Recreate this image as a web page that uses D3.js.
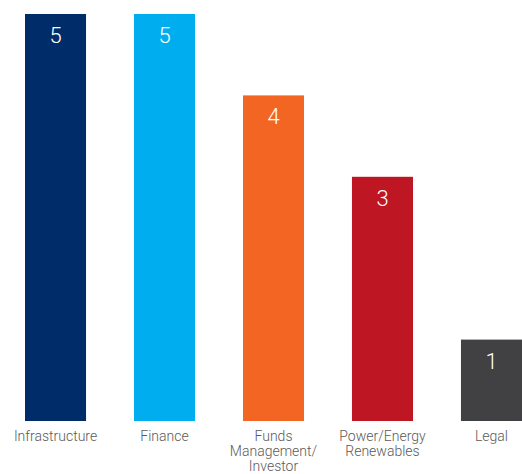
<!DOCTYPE html>
<html>
<head>
<meta charset="utf-8">
<script src="https://cdn.jsdelivr.net/npm/d3@7"></script>
<style>
  body { margin: 0; background: #fff; }
  svg { display: block; font-family: Roboto, "Liberation Sans", Arial, sans-serif; }
</style>
</head>
<body>
<div id="chart"></div>
<script>
var categories = ["Infrastructure", "Finance", "Funds\nManagement/\nInvestor", "Power/Energy\nRenewables", "Legal"];
var values = [5, 5, 4, 3, 1];
var colors = ["#002d6a", "#00aeef", "#f26522", "#be1622", "#414042"];

var data = categories.map(function (c, i) { return { cat: c, value: values[i], color: colors[i] }; });

// set the dimensions and margins of the graph
var margin = { top: 14, right: 0, bottom: 53, left: 25 },
    width = 522 - margin.left - margin.right,
    height = 474 - margin.top - margin.bottom;

var svg = d3.select("#chart")
    .append("svg")
    .attr("width", width + margin.left + margin.right)
    .attr("height", height + margin.top + margin.bottom)
    .append("g")
    .attr("transform", "translate(" + margin.left + "," + margin.top + ")");

var x = d3.scaleBand()
    .domain(categories)
    .range([0, width])
    .paddingInner(0.44)
    .paddingOuter(0);

var y = d3.scaleLinear()
    .domain([0, 5])
    .range([height, 0]);

// bars
svg.selectAll(".bar").data(data)
    .enter()
    .append("rect")
    .attr("x", d => x(d.cat))
    .attr("y", d => y(d.value))
    .attr("width", x.bandwidth())
    .attr("height", d => height - y(d.value))
    .attr("fill", d => d.color);

// values inside bars
svg.selectAll(".val").data(data)
    .enter()
    .append("text")
    .attr("x", d => x(d.cat) + x.bandwidth() / 2)
    .attr("y", d => y(d.value) + 29)
    .attr("text-anchor", "middle")
    .attr("fill", "#fff")
    .style("font-size", "22px")
    .style("font-weight", 300)
    .text(d => d.value);

// category labels
var labels = svg.selectAll(".lab").data(data)
    .enter()
    .append("text")
    .attr("x", d => x(d.cat) + x.bandwidth() / 2)
    .attr("y", height + 20)
    .attr("text-anchor", "middle")
    .attr("fill", "#5a5a5a")
    .style("font-size", "14px")
    .style("font-weight", 300);

labels.selectAll("tspan")
    .data(d => d.cat.split("\n"))
    .enter()
    .append("tspan")
    .attr("x", function () { return d3.select(this.parentNode).attr("x"); })
    .attr("dy", (d, i) => i === 0 ? 0 : 15)
    .text(d => d);
</script>
</body>
</html>
